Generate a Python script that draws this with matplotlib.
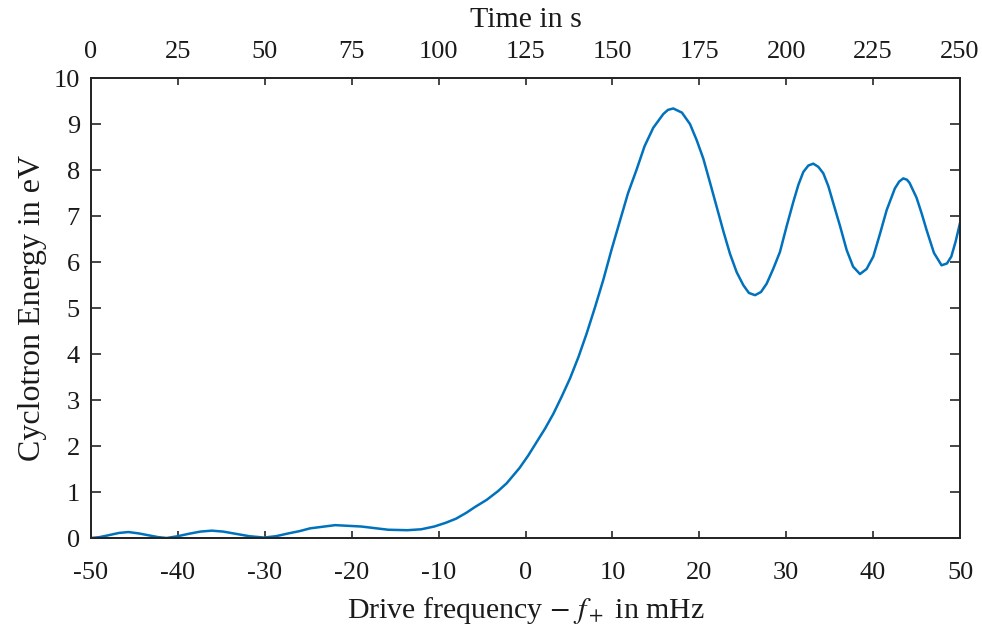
# cyclotron energy vs drive frequency
import matplotlib as mpl
import matplotlib.pyplot as plt

# curve (mHz, eV)
freq = [-50.0, -49.0, -48.0, -46.8, -45.7, -44.5, -43.4, -42.3, -41.3, -40.0,
        -38.8, -37.4, -36.1, -34.8, -33.3, -31.8, -30.1, -28.7, -27.3, -26.0,
        -24.8, -21.9, -18.9, -15.8, -13.6, -12.0, -10.5, -9.2, -8.0, -6.8,
        -5.85, -4.47, -3.16, -2.17, -0.7, 0.3, 1.29, 2.25, 3.2, 4.15,
        5.12, 6.1, 7.04, 8.0, 8.96, 9.9, 10.87, 11.8, 12.8, 13.7,
        14.7, 15.86, 16.4, 17.0, 18.0, 18.93, 19.7, 20.46, 21.2, 22.0,
        22.8, 23.53, 24.3, 25.06, 25.7, 26.41, 27.1, 27.75, 28.5, 29.28,
        30.05, 30.82, 31.4, 31.97, 32.55, 33.12, 33.7, 34.27, 34.85, 35.42,
        36.2, 36.96, 37.7, 38.49, 39.25, 40.02, 40.8, 41.56, 42.5, 43.0,
        43.47, 43.9, 44.2, 45.0, 45.6, 46.15, 47.0, 47.88, 48.5, 49.0,
        49.5, 50.0]
energy = [0.0, 0.02, 0.06, 0.11, 0.13, 0.10, 0.06, 0.02, 0.0, 0.04,
          0.09, 0.14, 0.16, 0.14, 0.09, 0.04, 0.01, 0.04, 0.10, 0.15,
          0.21, 0.28, 0.25, 0.18, 0.17, 0.19, 0.25, 0.33, 0.42, 0.55,
          0.67, 0.83, 1.02, 1.19, 1.52, 1.79, 2.09, 2.38, 2.70, 3.07,
          3.47, 3.94, 4.45, 5.02, 5.62, 6.27, 6.90, 7.50, 8.02, 8.52,
          8.92, 9.22, 9.31, 9.34, 9.25, 9.0, 8.65, 8.25, 7.75, 7.2,
          6.65, 6.18, 5.78, 5.50, 5.33, 5.28, 5.35, 5.53, 5.85, 6.22,
          6.78, 7.31, 7.68, 7.96, 8.10, 8.14, 8.07, 7.93, 7.65, 7.28,
          6.78, 6.26, 5.90, 5.74, 5.85, 6.12, 6.62, 7.13, 7.60, 7.75,
          7.82, 7.79, 7.72, 7.40, 7.05, 6.70, 6.20, 5.93, 5.97, 6.12,
          6.45, 6.85]

freq_ticks = [-50, -40, -30, -20, -10, 0, 10, 20, 30, 40, 50]
time_ticks = [0, 25, 50, 75, 100, 125, 150, 175, 200, 225, 250]
energy_ticks = list(range(0, 11))

mpl.rcParams['font.family'] = 'Liberation Serif'
mpl.rcParams['mathtext.fontset'] = 'stix'
mpl.rcParams['axes.unicode_minus'] = False
mpl.rcParams['axes.edgecolor'] = '#262626'
mpl.rcParams['axes.linewidth'] = 1.4

fig = plt.figure(figsize=(9.82, 6.3), dpi=100, facecolor='white')
ax = fig.add_axes([0.0927, 0.146, 0.8849, 0.730])

ax.plot(freq, energy, color='#0072BD', linewidth=1.8)

ax.set_xlim(-50, 50)
ax.set_ylim(0, 10)
ax.set_xticks(freq_ticks)
ax.set_yticks(energy_ticks)
ax.tick_params(axis='x', direction='in', length=5, width=1.2, labelsize=19,
               colors='#262626', labelcolor='#1a1a1a', pad=17)
ax.tick_params(axis='y', direction='in', length=7, width=1.2, labelsize=19,
               right=True, colors='#262626', labelcolor='#1a1a1a', pad=8)
ax.set_xlabel(r'Drive frequency $-$ $f_+$ in mHz', fontsize=21.5,
              color='#1a1a1a', labelpad=8)
ax.set_ylabel('Cyclotron Energy in eV', fontsize=23, color='#1a1a1a',
              labelpad=5)

# top axis: time
ax2 = ax.twiny()
ax2.set_xlim(0, 250)
ax2.set_xticks(time_ticks)
ax2.tick_params(axis='x', direction='in', length=5, width=1.2, labelsize=19,
                colors='#262626', labelcolor='#1a1a1a', pad=11)
ax2.set_xlabel('Time in s', fontsize=21.5, color='#1a1a1a', labelpad=10)

plt.savefig('out.png', dpi=100)
